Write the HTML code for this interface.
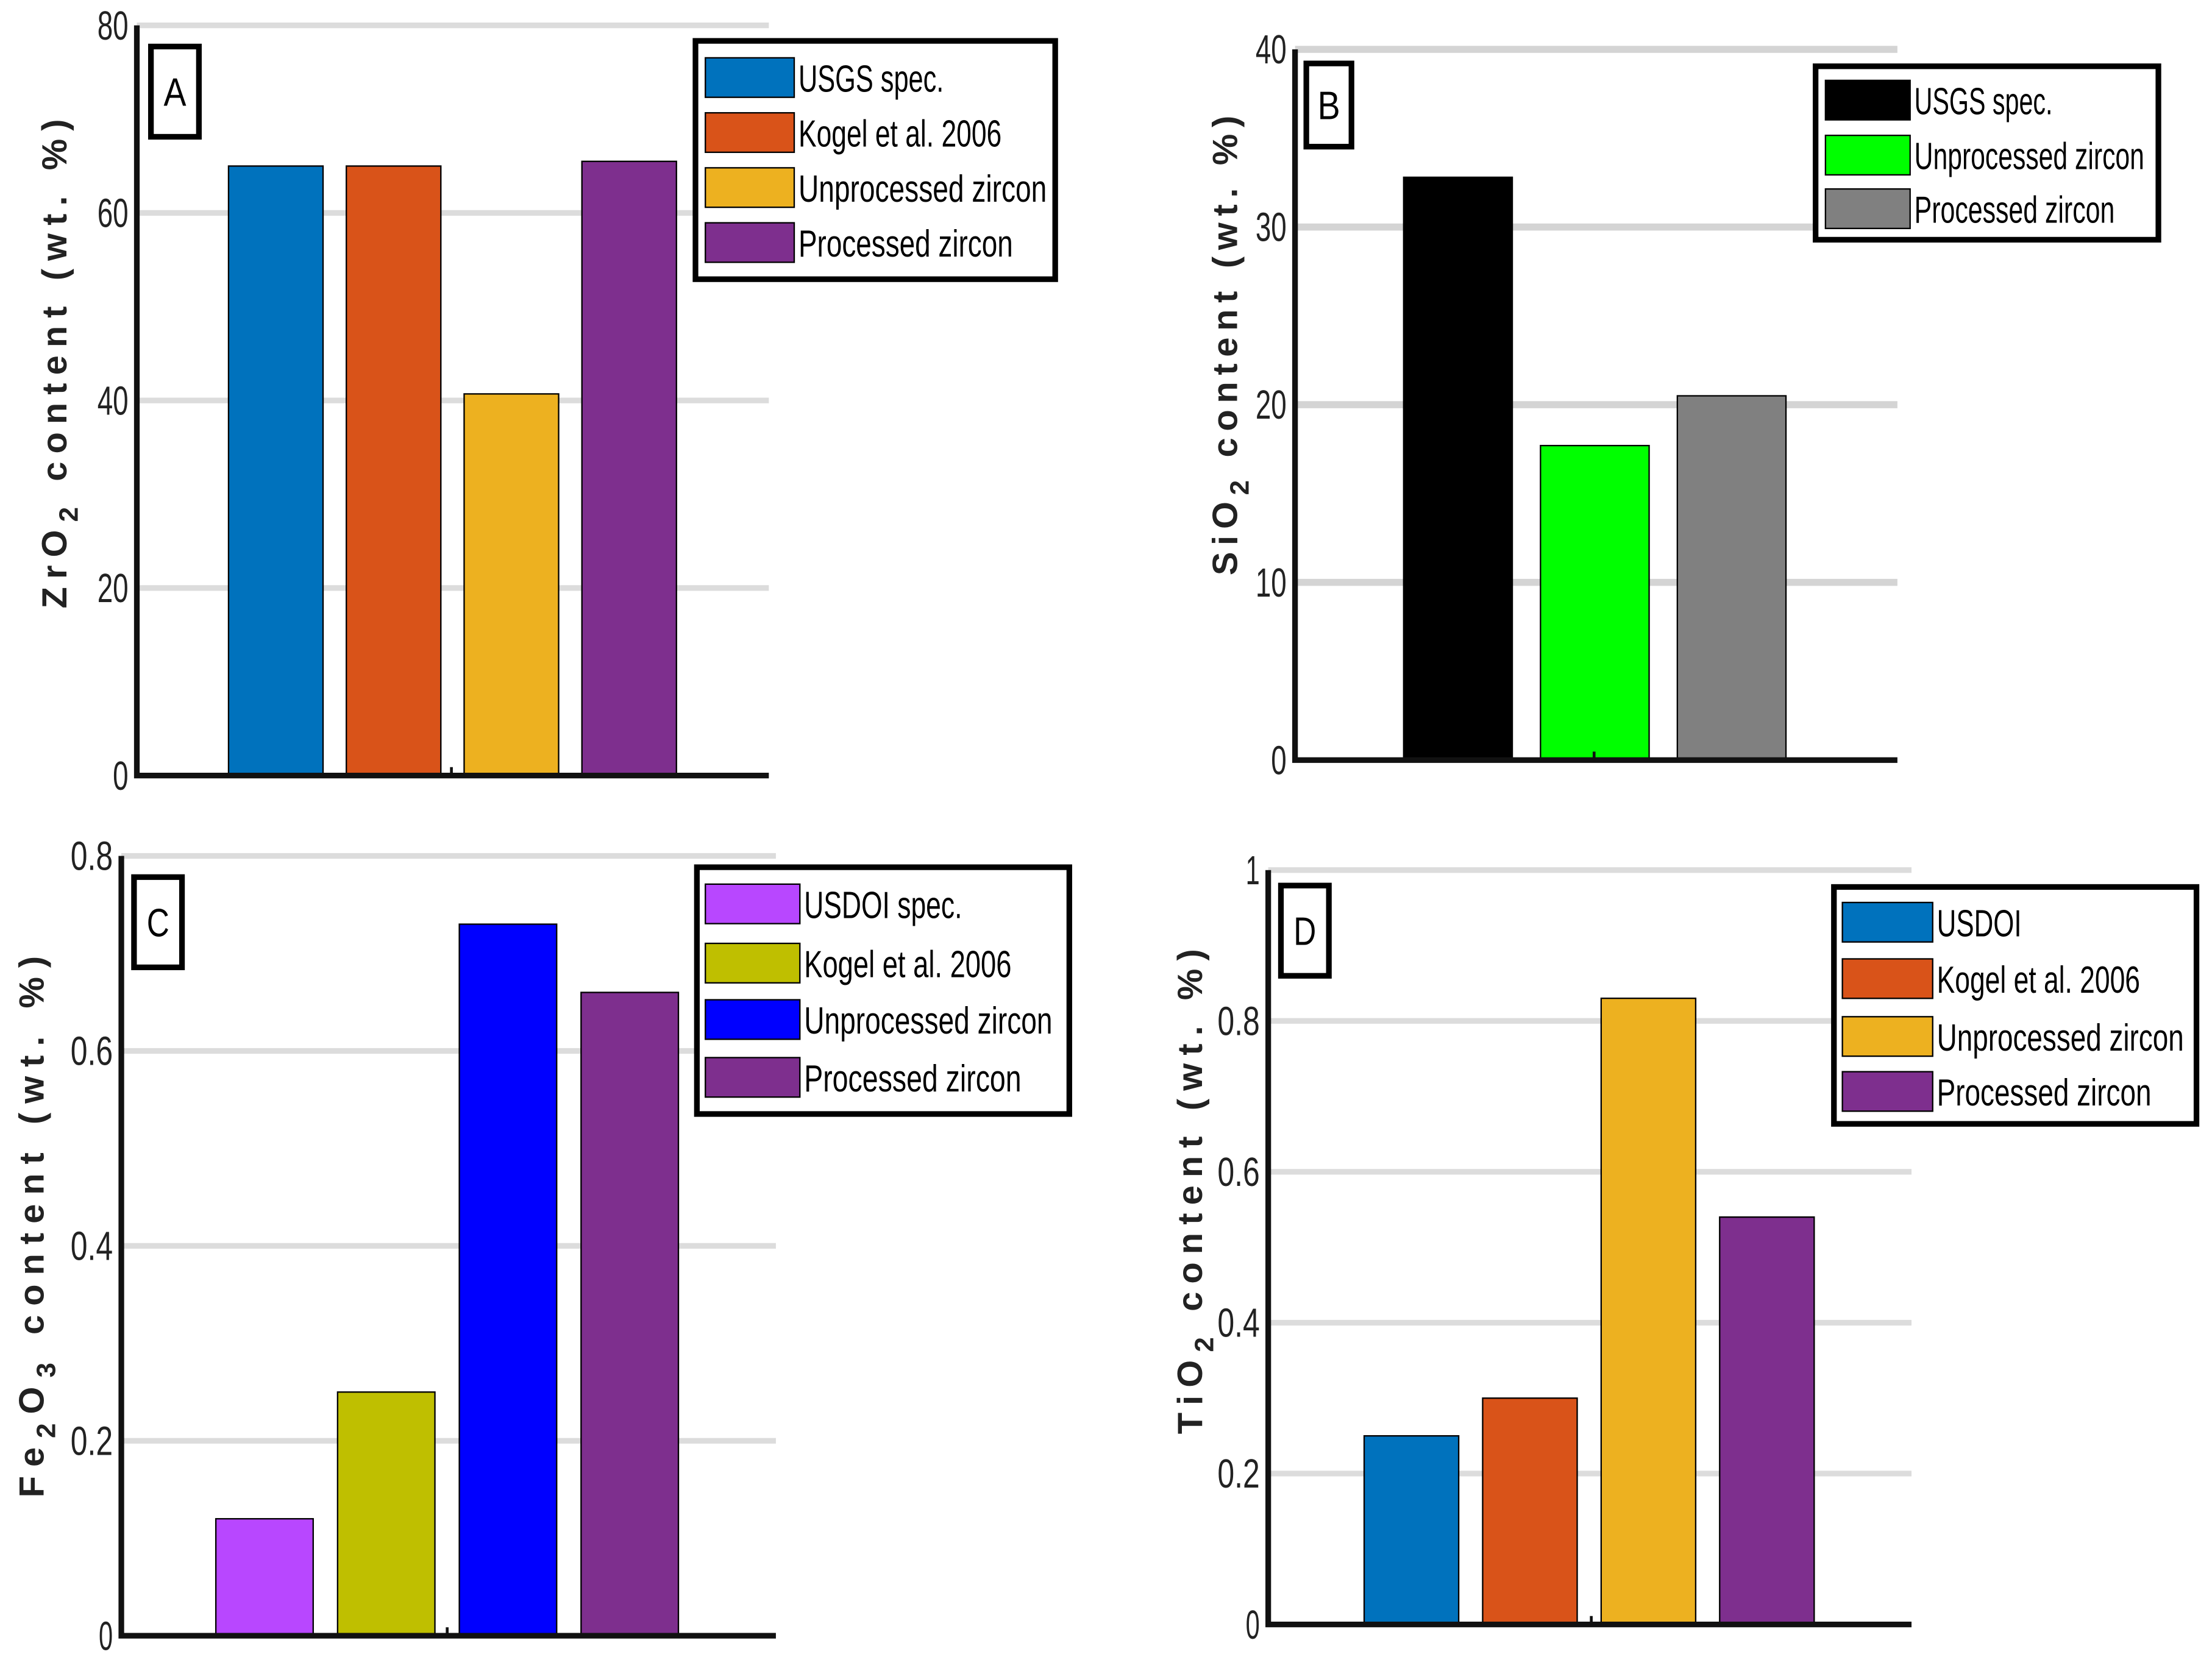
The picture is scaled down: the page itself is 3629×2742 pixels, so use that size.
<!DOCTYPE html>
<html><head><meta charset="utf-8"><style>
html,body{margin:0;padding:0;background:#fff;}
svg{display:block;}
text{font-family:"Liberation Sans",sans-serif;}
</style></head><body>
<svg id="fig" width="3629" height="2742" viewBox="0 0 1568 1185" preserveAspectRatio="none" xmlns="http://www.w3.org/2000/svg"></svg>
<script>
// Panel A data
const catsA=["USGS spec.","Kogel et al. 2006","Unprocessed zircon","Processed zircon"];
const valsA=[65,65,40.7,65.5];
const ticksA=[0,20,40,60,80];
// Panel B data
const catsB=["USGS spec.","Unprocessed zircon","Processed zircon"];
const valsB=[32.8,17.7,20.5];
const ticksB=[0,10,20,30,40];
// Panel C data
const catsC=["USDOI spec.","Kogel et al. 2006","Unprocessed zircon","Processed zircon"];
const valsC=[0.12,0.25,0.73,0.66];
const ticksC=[0,0.2,0.4,0.6,0.8];
// Panel D data
const catsD=["USDOI","Kogel et al. 2006","Unprocessed zircon","Processed zircon"];
const valsD=[0.25,0.30,0.83,0.54];
const ticksD=[0,0.2,0.4,0.6,0.8,1];

const NS="http://www.w3.org/2000/svg";
const svg=document.getElementById('fig');
function mk(tag,attrs,parent){const e=document.createElementNS(NS,tag);for(const k in attrs)e.setAttribute(k,attrs[k]);(parent||svg).appendChild(e);return e;}

function panel(cfg){
  const g=mk('g',{});
  
  
  const ys=v=>cfg.y0-(v-cfg.ticks[0])/(cfg.ticks[cfg.ticks.length-1]-cfg.ticks[0])*(cfg.y0-cfg.y1);
  cfg.ticks.forEach(t=>{
    const y=ys(t);
    if(t!==cfg.ticks[0]){
      const gl=mk('line',{x1:cfg.x0,x2:cfg.x2,y1:y,y2:y,stroke:cfg.gridColor,'stroke-width':cfg.gridW},g);
      
      
    }
    const tl=mk('text',{x:cfg.x0-6,y:y+10,'text-anchor':'end','font-size':29,fill:'#222',textLength:cfg.tickLen(t),lengthAdjust:'spacingAndGlyphs'},g);
    tl.textContent=String(t);
    
    
  });
  const bw=cfg.bw,pitch=cfg.pitch;
  cfg.vals.forEach((v,i)=>{
    const x=cfg.bx+i*pitch;
    const r=mk('rect',{x:x,y:ys(v),width:bw,height:cfg.y0-ys(v),fill:cfg.colors[i],stroke:'#000','stroke-width':1},g);
    
    
  });
  const ax=mk('path',{d:`M${cfg.x0},${cfg.y1} L${cfg.x0},${cfg.y0} L${cfg.x2},${cfg.y0}`,stroke:'#111','stroke-width':4,fill:'none'},g);
  
  
  mk('line',{x1:cfg.midTick,x2:cfg.midTick,y1:cfg.y0,y2:cfg.y0-6,stroke:'#111','stroke-width':2},g);
  const lab=mk('text',{transform:`translate(${cfg.lx},${cfg.ly}) rotate(-90)`,'text-anchor':'middle','font-size':25,'font-weight':'bold',fill:'#222',textLength:cfg.labLen,lengthAdjust:'spacing'},g);
  
  
  cfg.label.forEach(p=>{const s=mk('tspan',p.sub?{'font-size':19,dy:8}:{dy:p.up?-8:0},lab);s.textContent=p.t;});
  const b=cfg.box;
  const br=mk('rect',{x:b[0],y:b[1],width:b[2]-b[0],height:b[3]-b[1],fill:'#fff',stroke:'#000','stroke-width':4},g);
  
  
  const bt=mk('text',{x:(b[0]+b[2])/2,y:(b[1]+b[3])/2+10,'text-anchor':'middle','font-size':28,fill:'#000',textLength:16,lengthAdjust:'spacingAndGlyphs'},g);
  bt.textContent=cfg.id;
  const L=cfg.leg;
  const lg=mk('g',{},g);
  
  
  mk('rect',{x:L.x,y:L.y,width:L.w,height:L.h,fill:'#fff',stroke:'#000','stroke-width':4},lg);
  cfg.cats.forEach((c,i)=>{
    const cy=L.rows[i];
    const e=mk('g',{},lg);
    
    
    mk('rect',{x:L.sx,y:cy-14,width:L.sw,height:28,fill:cfg.colors[i],stroke:'#000','stroke-width':1},e);
    const t=mk('text',{x:L.sx+L.sw+3,y:cy+10,'font-size':27,fill:'#000',textLength:L.tl[i],lengthAdjust:'spacingAndGlyphs'},e);
    t.textContent=c;
  });
}
const P='#7E2F8E';
panel({id:'A',cats:catsA,vals:valsA,ticks:ticksA,x0:97,x2:545,y0:550,y1:18,bx:162,bw:67,pitch:83.5,
  colors:['#0072BD','#D95319','#EDB120',P],gridColor:'#dcdcdc',gridW:4,midTick:320,
  tickLen:t=>String(t).length*11,lx:47,ly:258,labLen:347,
  label:[{t:'ZrO'},{t:'2',sub:1},{t:' content (wt. %)',up:1}],box:[107,33,141,97],
  leg:{x:493,y:29,w:255,h:169,sx:500,sw:63,rows:[55,94,133,172],tl:[103,144,176,152]}});
panel({id:'B',cats:catsB,vals:valsB,ticks:ticksB,x0:918,x2:1345,y0:539,y1:35,bx:995,bw:77,pitch:97,
  colors:['#000000','#00FF00','#808080'],gridColor:'#d4d4d4',gridW:5,midTick:1130,
  tickLen:t=>String(t).length*11,lx:877,ly:245,labLen:326,
  label:[{t:'SiO'},{t:'2',sub:1},{t:' content (wt. %)',up:1}],box:[926,45,958,104],
  leg:{x:1287,y:47,w:243,h:123,sx:1294,sw:60,rows:[71,110,148],tl:[98,163,142]}});
panel({id:'C',cats:catsC,vals:valsC,ticks:ticksC,x0:86,x2:550,y0:1160,y1:607,bx:153,bw:69,pitch:86.3,
  colors:['#B847FF','#BFBF00','#0000FF',P],gridColor:'#dcdcdc',gridW:4,midTick:317,
  tickLen:t=>String(t).length*10,lx:31,ly:870,labLen:384,
  label:[{t:'Fe'},{t:'2',sub:1},{t:'O',up:1},{t:'3',sub:1},{t:' content (wt. %)',up:1}],box:[95,622,129,686],
  leg:{x:494,y:615,w:264,h:175,sx:500,sw:67,rows:[641,683,723,764],tl:[112,147,176,154]}});
panel({id:'D',cats:catsD,vals:valsD,ticks:ticksD,x0:899,x2:1355,y0:1152,y1:617,bx:967,bw:67,pitch:84,
  colors:['#0072BD','#D95319','#EDB120',P],gridColor:'#dcdcdc',gridW:4,midTick:1128,
  tickLen:t=>String(t).length*10,lx:852,ly:845,labLen:344,
  label:[{t:'TiO'},{t:'2',sub:1},{t:' content (wt. %)',up:1}],box:[908,628,942,692],
  leg:{x:1300,y:629,w:257,h:168,sx:1306,sw:64,rows:[654,694,735,774],tl:[60,144,175,152]}});
</script>
</body></html>
